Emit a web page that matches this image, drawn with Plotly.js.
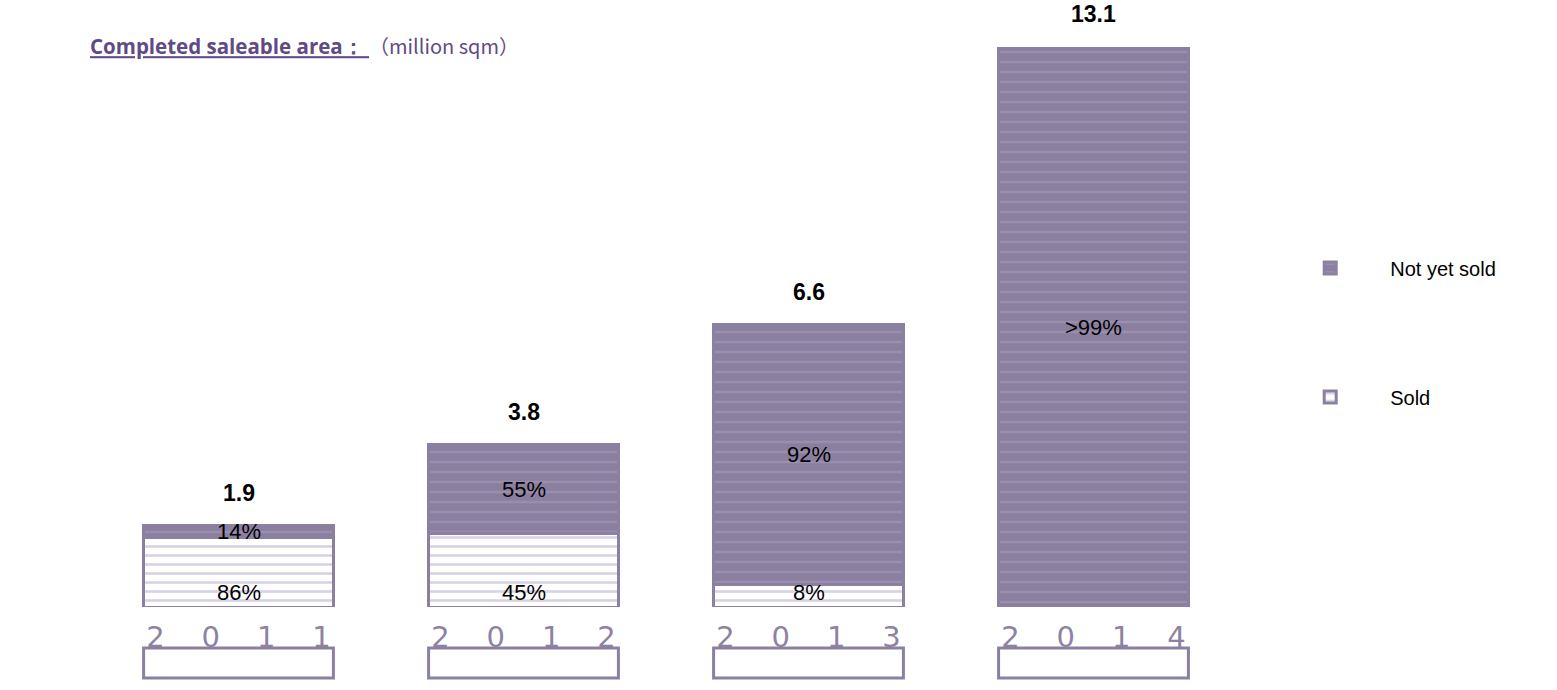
<!DOCTYPE html>
<html>
<head>
<meta charset="utf-8">
<script src="https://cdn.plot.ly/plotly-3.0.1.min.js"></script>
<style>html,body{margin:0;padding:0;background:#fff;}#chart{width:1557px;height:690px;}</style>
</head>
<body>
<div id="chart"></div>
<script>
var years = ["2011", "2012", "2013", "2014"];
var yearLabels = ["2    0    1    1", "2    0    1    2", "2    0    1    3", "2    0    1    4"];
var totals = [1.9, 3.8, 6.6, 13.1];
var soldPct = [86, 45, 8, 0];
var unsoldPct = [14, 55, 92, 100];
var soldLabels = ["86%", "45%", "8%", ""];
var unsoldLabels = ["14%", "55%", "92%", ">99%"];
var totalLabels = ["1.9", "3.8", "6.6", "13.1"];

var soldVals = totals.map(function (t, i) { return t * soldPct[i] / 100; });
var unsoldVals = totals.map(function (t, i) { return t * unsoldPct[i] / 100; });

var purple = "#8b7f9f";
var purpleLine = "#a99dc0";
var border = "#8c80a2";

var traces = [
  {
    type: "bar", name: "Sold", x: years, y: soldVals,
    legendgroup: "s", legendrank: 2,
    marker: {
      color: "#ffffff",
      line: { color: border, width: 3 },
      pattern: { shape: "-", bgcolor: "#ffffff", fgcolor: "#b2a7c6", size: 9, solidity: 0.3, fillmode: "overlay" }
    },
    hoverinfo: "skip"
  },
  {
    type: "bar", name: "Not yet sold", x: years, y: unsoldVals,
    legendgroup: "u", legendrank: 1,
    marker: {
      color: purple,
      line: { color: border, width: 3 },
      pattern: { shape: "-", bgcolor: purple, fgcolor: purpleLine, size: 10, solidity: 0.25, fillmode: "overlay" }
    },
    hoverinfo: "skip"
  }
];

var labelFont = { family: "Liberation Sans, Arial, sans-serif", size: 22, color: "#000" };
var annotations = [];
years.forEach(function (yr, i) {
  annotations.push({
    x: i, y: totals[i], xref: "x", yref: "y", yanchor: "middle", yshift: 33,
    text: "<b>" + totalLabels[i] + "</b>", showarrow: false,
    font: { family: "Liberation Sans, Arial, sans-serif", size: 23, color: "#000" }
  });
  if (unsoldLabels[i]) {
    annotations.push({
      x: i, y: soldVals[i] + unsoldVals[i] / 2, xref: "x", yref: "y",
      text: unsoldLabels[i], showarrow: false, font: labelFont
    });
  }
  if (soldLabels[i]) {
    annotations.push({
      x: i, y: 0, xref: "x", yref: "y", yanchor: "bottom", yshift: 0,
      text: soldLabels[i], showarrow: false, font: labelFont
    });
  }
});

var shapes = years.map(function (yr, i) {
  return {
    type: "rect", xref: "x", yref: "paper",
    x0: i - 0.333, x1: i + 0.333, y0: -0.073, y1: -0.127,
    line: { color: border, width: 3 }, fillcolor: "rgba(0,0,0,0)"
  };
});

var layout = {
  width: 1557, height: 690,
  margin: { l: 96, r: 321, t: 47, b: 83 },
  paper_bgcolor: "#fff", plot_bgcolor: "#fff",
  barmode: "stack", bargap: 0.333,
  title: {
    text: '<b><u>Completed saleable area： </u></b><span style="font-family:\'Noto Sans CJK SC\';font-size:20px">（million sqm）</span>',
    x: 90 / 1557, xanchor: "left", xref: "container",
    y: 1 - 47 / 690, yanchor: "middle", yref: "container",
    font: { family: "Open Sans, Noto Sans, sans-serif", size: 20.5, color: "#5f4a86" }
  },
  xaxis: {
    type: "category", range: [-0.5, 3.5],
    tickvals: years, ticktext: yearLabels,
    tickfont: { family: "DejaVu Sans, sans-serif", size: 29, color: "#8e82a3" },
    showline: false, showgrid: false, zeroline: false, ticks: "",
    ticklabelstandoff: 10
  },
  yaxis: {
    range: [0, 13.1], visible: false, showgrid: false, zeroline: false
  },
  showlegend: true,
  legend: {
    x: 1.03, xanchor: "left", y: 0.64, yanchor: "top",
    traceorder: "grouped", tracegroupgap: 100,
    font: { family: "Liberation Sans, Arial, sans-serif", size: 20, color: "#000" },
    itemwidth: 110
  },
  annotations: annotations,
  shapes: shapes
};

Plotly.newPlot("chart", traces, layout, { displayModeBar: false, staticPlot: true });
</script>
</body>
</html>
